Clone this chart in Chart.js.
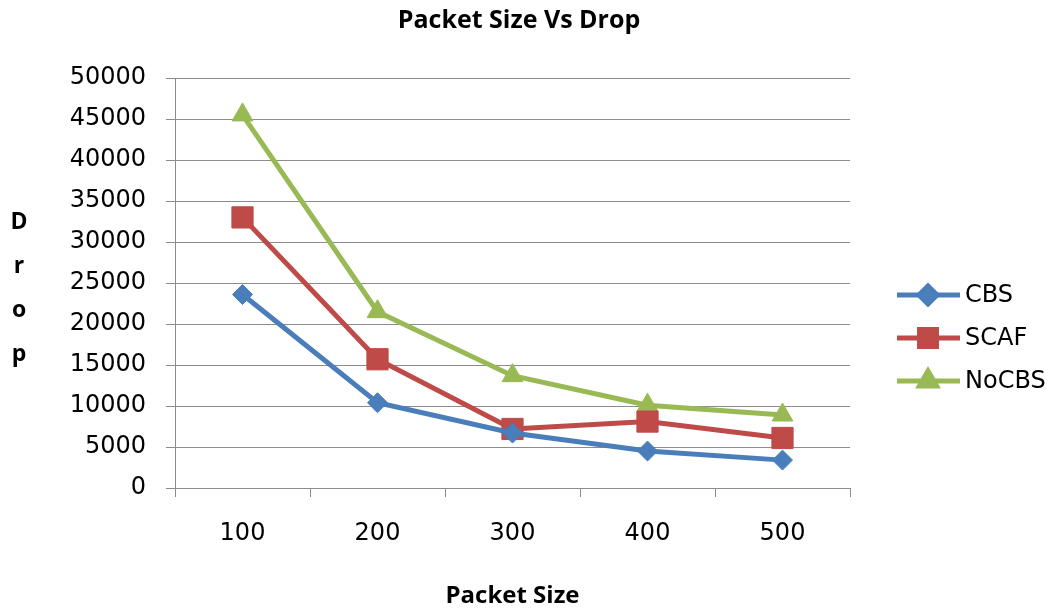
<!DOCTYPE html>
<html lang="en">
<head>
  <meta charset="UTF-8" />
  <title>Packet Size Vs Drop</title>
  <script src="https://cdn.jsdelivr.net/npm/chart.js"></script>
  <style>
    body { margin: 0; background: #ffffff; }
    #wrap { width: 1056px; height: 612px; position: relative; }
  </style>
</head>
<body>
  <div id="wrap"><canvas id="dropChart" width="1056" height="612"></canvas></div>
  <script>
    const packetSizes = ["100", "200", "300", "400", "500"];
    const cbs = [23600, 10400, 6700, 4500, 3400];
    const scaf = [33000, 15700, 7200, 8100, 6100];
    const noCbs = [45500, 21500, 13700, 10100, 8900];
    const yMax = 50000;
    const yStep = 5000;

    const FONT = "'DejaVu Sans', sans-serif";
    const BOLD_FONT = "'Open Sans', 'DejaVu Sans', sans-serif";
    const GRID = "#8c8c8c";

    // title centred on the whole picture, stacked "D r o p" label, legend with line and marker
    const extras = {
      id: "extras",
      afterDraw(chart) {
        const ctx = chart.ctx;
        ctx.save();
        ctx.fillStyle = "#000";
        ctx.textAlign = "center";
        ctx.textBaseline = "middle";
        ctx.font = "bold 25px " + BOLD_FONT;
        ctx.fillText("Packet Size Vs Drop", 519, 21);

        ctx.font = "bold 23px " + BOLD_FONT;
        ["D", "r", "o", "p"].forEach((ch, i) => ctx.fillText(ch, 19, 222 + i * 44));

        const legendRadius = [9, 12, 10];
        chart.data.datasets.forEach((ds, i) => {
          const y = 295 + i * 43;
          ctx.strokeStyle = ds.borderColor;
          ctx.lineWidth = 5;
          ctx.beginPath();
          ctx.moveTo(897, y);
          ctx.lineTo(960, y);
          ctx.stroke();
          ctx.fillStyle = ds.borderColor;
          Chart.helpers.drawPoint(ctx, {
            pointStyle: ds.pointStyle,
            radius: legendRadius[i],
            borderWidth: 1
          }, 928, y);
          ctx.fill();
          ctx.fillStyle = "#000";
          ctx.font = "24px " + FONT;
          ctx.textAlign = "left";
          ctx.fillText(ds.label, 965, y + 1);
        });
        ctx.restore();
      }
    };

    new Chart(document.getElementById("dropChart"), {
      type: "line",
      data: {
        labels: packetSizes,
        datasets: [
          { label: "CBS", data: cbs, borderColor: "#4a7ebb", pointStyle: "rectRot", pointRadius: 10 },
          { label: "SCAF", data: scaf, borderColor: "#be4b48", pointStyle: "rect", pointRadius: 15 },
          { label: "NoCBS", data: noCbs, borderColor: "#98b954", pointStyle: "triangle", pointRadius: 12 }
        ].map(d => Object.assign(d, { borderWidth: 5, tension: 0, pointBorderWidth: 1,
          backgroundColor: d.borderColor, pointBorderColor: d.borderColor,
          pointBackgroundColor: d.borderColor }))
      },
      options: {
        responsive: false,
        animation: false,
        layout: { padding: { left: 40, right: 206, top: 78, bottom: 0 } },
        plugins: {
          legend: { display: false },
          tooltip: { enabled: false },
          title: { display: false }
        },
        scales: {
          x: {
            offset: true,
            grid: { offset: true, drawOnChartArea: false, color: GRID, tickLength: 9 },
            border: { color: GRID },
            ticks: { color: "#000", font: { family: FONT, size: 24 }, padding: 22 },
            title: { display: true, text: "Packet Size", color: "#000",
              font: { family: BOLD_FONT, size: 24, weight: "bold" }, padding: { top: 0, bottom: 1 } },
            afterFit: s => { s.height = 124; }
          },
          y: {
            min: 0,
            max: yMax,
            grid: { color: GRID, tickLength: 9 },
            border: { color: GRID },
            ticks: { stepSize: yStep, color: "#000", font: { family: FONT, size: 24 }, padding: 20,
              callback: v => String(v) },
            afterFit: s => { s.width = 135; }
          }
        }
      },
      plugins: [extras]
    });
  </script>
</body>
</html>
